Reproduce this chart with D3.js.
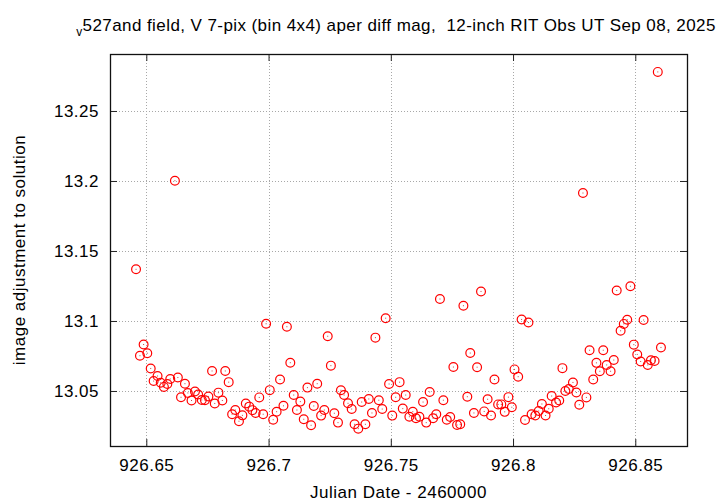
<!DOCTYPE html>
<html>
<head>
<meta charset="utf-8">
<script src="https://cdn.jsdelivr.net/npm/d3@7"></script>
<style>
  body { margin: 0; background: #fff; }
  text { font-family: "Liberation Sans", Arial, sans-serif; fill: #000; letter-spacing: 0.5px; }
</style>
</head>
<body>
<script>
// photometry of v527and field

var jd = [
  926.6458, 926.6474, 926.6489, 926.6504, 926.6518, 926.6530, 926.6546, 926.6559, 926.6572, 926.6586,
  926.6598, 926.6617, 926.6629, 926.6642, 926.6658, 926.6670, 926.6685, 926.6699, 926.6712, 926.6727,
  926.6740, 926.6754, 926.6769, 926.6780, 926.6795, 926.6811, 926.6823, 926.6837, 926.6851, 926.6864,
  926.6879, 926.6893, 926.6907, 926.6921, 926.6934, 926.6947, 926.6962, 926.6978, 926.6990, 926.7005,
  926.7019, 926.7033, 926.7047, 926.7061, 926.7075, 926.7089, 926.7103, 926.7116, 926.7130, 926.7144,
  926.7159, 926.7174, 926.7185, 926.7199, 926.7215, 926.7228, 926.7242, 926.7255, 926.7269, 926.7284,
  926.7296, 926.7309, 926.7325, 926.7340, 926.7352, 926.7367, 926.7381, 926.7396, 926.7410, 926.7423,
  926.7437, 926.7451, 926.7465, 926.7479, 926.7493, 926.7506, 926.7520, 926.7536, 926.7549, 926.7561,
  926.7576, 926.7590, 926.7603, 926.7617, 926.7632, 926.7645, 926.7659, 926.7673, 926.7686, 926.7701,
  926.7715, 926.7729, 926.7743, 926.7756, 926.7771, 926.7784, 926.7797, 926.7813, 926.7825, 926.7840,
  926.7853, 926.7869, 926.7882, 926.7896, 926.7910, 926.7924, 926.7939, 926.7952, 926.7966, 926.7981,
  926.7995, 926.8006, 926.8021, 926.8035, 926.8049, 926.8063, 926.8076, 926.8091, 926.8105, 926.8118,
  926.8133, 926.8146, 926.8158, 926.8176, 926.8189, 926.8202, 926.8214, 926.8228, 926.8245, 926.8259,
  926.8271, 926.8286, 926.8300, 926.8313, 926.8328, 926.8341, 926.8355, 926.8369, 926.8383, 926.8399,
  926.8412, 926.8424, 926.8440, 926.8453, 926.8467, 926.8480, 926.8494, 926.8508, 926.8522, 926.8534,
  926.8551, 926.8564, 926.8579, 926.8592, 926.8605
];

var mag = [
  13.1369, 13.0752, 13.0832, 13.0770, 13.0661, 13.0571, 13.0607, 13.0559, 13.0529, 13.0550,
  13.0586, 13.2002, 13.0596, 13.0455, 13.0552, 13.0486, 13.0432, 13.0496, 13.0475, 13.0436,
  13.0434, 13.0461, 13.0643, 13.0411, 13.0488, 13.0432, 13.0643, 13.0563, 13.0334, 13.0364,
  13.0284, 13.0326, 13.0411, 13.0388, 13.0363, 13.0343, 13.0454, 13.0334, 13.0980, 13.0506,
  13.0295, 13.0352, 13.0582, 13.0394, 13.0959, 13.0702, 13.0471, 13.0364, 13.0424, 13.0298,
  13.0524, 13.0255, 13.0393, 13.0552, 13.0324, 13.0364, 13.0891, 13.0681, 13.0341, 13.0274,
  13.0505, 13.0471, 13.0412, 13.0371, 13.0262, 13.0231, 13.0421, 13.0262, 13.0443, 13.0343,
  13.0881, 13.0434, 13.0371, 13.1020, 13.0550, 13.0324, 13.0455, 13.0563, 13.0374, 13.0471,
  13.0316, 13.0352, 13.0305, 13.0316, 13.0421, 13.0274, 13.0493, 13.0305, 13.0334, 13.1157,
  13.0434, 13.0295, 13.0314, 13.0671, 13.0257, 13.0262, 13.1109, 13.0459, 13.0771, 13.0343,
  13.0670, 13.1211, 13.0354, 13.0441, 13.0325, 13.0582, 13.0404, 13.0404, 13.0351, 13.0456,
  13.0384, 13.0654, 13.0602, 13.1011, 13.0293, 13.0989, 13.0334, 13.0325, 13.0357, 13.0407,
  13.0325, 13.0373, 13.0464, 13.0418, 13.0432, 13.0663, 13.0500, 13.0514, 13.0561, 13.0489,
  13.0402, 13.1914, 13.0454, 13.0791, 13.0582, 13.0701, 13.0641, 13.0791, 13.0686, 13.0641,
  13.0721, 13.1218, 13.0930, 13.0979, 13.1009, 13.1248, 13.0831, 13.0761, 13.0711, 13.1007,
  13.0686, 13.0720, 13.0714, 13.2779, 13.0811
];

var xTicks = [926.65, 926.7, 926.75, 926.8, 926.85];
var xTickLabels = ["926.65", "926.7", "926.75", "926.8", "926.85"];
var yTicks = [13.05, 13.1, 13.15, 13.2, 13.25];
var yTickLabels = ["13.05", "13.1", "13.15", "13.2", "13.25"];

var width = 720,
	height = 504;

// plot box, same as the gnuplot frame
var margin = {top: 54, right: 33, bottom: 58, left: 110};
var plotW = width - margin.left - margin.right,
	plotH = height - margin.top - margin.bottom;

var x = d3.scaleLinear()
	.domain([926.63515, 926.87115])
	.range([0, plotW]);

var y = d3.scaleLinear()
	.domain([13.0107, 13.2907])
	.range([plotH, 0]);

var svg = d3.select('body')
	.append('svg')
	.attr('width', width)
	.attr('height', height);

var g = svg.append('g')
	.attr('transform', 'translate(' + margin.left + ',' + margin.top + ')');

// dotted grid
g.append('g').selectAll('line')
	.data(xTicks)
	.enter().append('line')
	.attr('x1', function(d) { return Math.round(x(d)) + 0.5; })
	.attr('x2', function(d) { return Math.round(x(d)) + 0.5; })
	.attr('y1', 0)
	.attr('y2', plotH)
	.attr('stroke', '#a8a8a8')
	.attr('stroke-dasharray', '1,2');

g.append('g').selectAll('line')
	.data(yTicks)
	.enter().append('line')
	.attr('y1', function(d) { return Math.round(y(d)) + 0.5; })
	.attr('y2', function(d) { return Math.round(y(d)) + 0.5; })
	.attr('x1', 0)
	.attr('x2', plotW)
	.attr('stroke', '#a8a8a8')
	.attr('stroke-dasharray', '1,2');

// axes, ticks point inward and are mirrored
var fontSize = 17;

var xAxis = g.append('g')
	.attr('transform', 'translate(0,' + plotH + ')')
	.call(d3.axisBottom(x)
		.tickValues(xTicks)
		.tickFormat(function(d, i) { return xTickLabels[i]; })
		.tickSizeInner(-7)
		.tickSizeOuter(0)
		.tickPadding(13));

var yAxis = g.append('g')
	.call(d3.axisLeft(y)
		.tickValues(yTicks)
		.tickFormat(function(d, i) { return yTickLabels[i]; })
		.tickSizeInner(-7)
		.tickSizeOuter(0)
		.tickPadding(11));

g.append('g')
	.call(d3.axisTop(x).tickValues(xTicks).tickFormat('').tickSizeInner(-7).tickSizeOuter(0));

g.append('g')
	.attr('transform', 'translate(' + plotW + ',0)')
	.call(d3.axisRight(y).tickValues(yTicks).tickFormat('').tickSizeInner(-7).tickSizeOuter(0));

g.selectAll('.domain').remove();
g.selectAll('.tick line').attr('stroke', '#222');
g.selectAll('.tick text')
	.style('font-size', fontSize + 'px')
	.style('font-family', '"Liberation Sans", Arial, sans-serif')
	.attr('fill', '#000');

// frame
g.append('rect')
	.attr('x', 0.5)
	.attr('y', 0.5)
	.attr('width', plotW)
	.attr('height', plotH)
	.attr('fill', 'none')
	.attr('stroke', '#111')
	.attr('stroke-width', 1.3);

// points: open red circles with a small center dot
var pts = g.append('g').selectAll('g')
	.data(jd)
	.enter().append('g')
	.attr('transform', function(d, i) { return 'translate(' + x(d) + ',' + y(mag[i]) + ')'; });

pts.append('circle')
	.attr('r', 4.4)
	.attr('fill', 'none')
	.attr('stroke', '#ff0000')
	.attr('stroke-width', 1.2);

pts.append('rect')
	.attr('x', -0.5)
	.attr('y', -0.5)
	.attr('width', 1)
	.attr('height', 1)
	.attr('fill', '#d04040');

// title with the subscript v (ends right at the canvas edge in the original)
var title = svg.append('text')
	.attr('x', 396)
	.attr('y', 31)
	.attr('text-anchor', 'middle')
	.style('font-size', fontSize + 'px')
	.style('letter-spacing', '0.42px')
	.style('white-space', 'pre');

title.append('tspan')
	.attr('dy', 5)
	.style('font-size', '12px')
	.text('v');

title.append('tspan')
	.attr('dy', -5)
	.text('527and field, V 7-pix (bin 4x4) aper diff mag,  12-inch RIT Obs UT Sep 08, 2025');

// axis labels
svg.append('text')
	.attr('x', margin.left + plotW / 2)
	.attr('y', 498)
	.attr('text-anchor', 'middle')
	.style('font-size', fontSize + 'px')
	.text('Julian Date - 2460000');

svg.append('text')
	.attr('transform', 'translate(25,' + (margin.top + plotH / 2) + ') rotate(-90)')
	.attr('text-anchor', 'middle')
	.style('font-size', fontSize + 'px')
	.text('image adjustment to solution');
</script>
</body>
</html>
